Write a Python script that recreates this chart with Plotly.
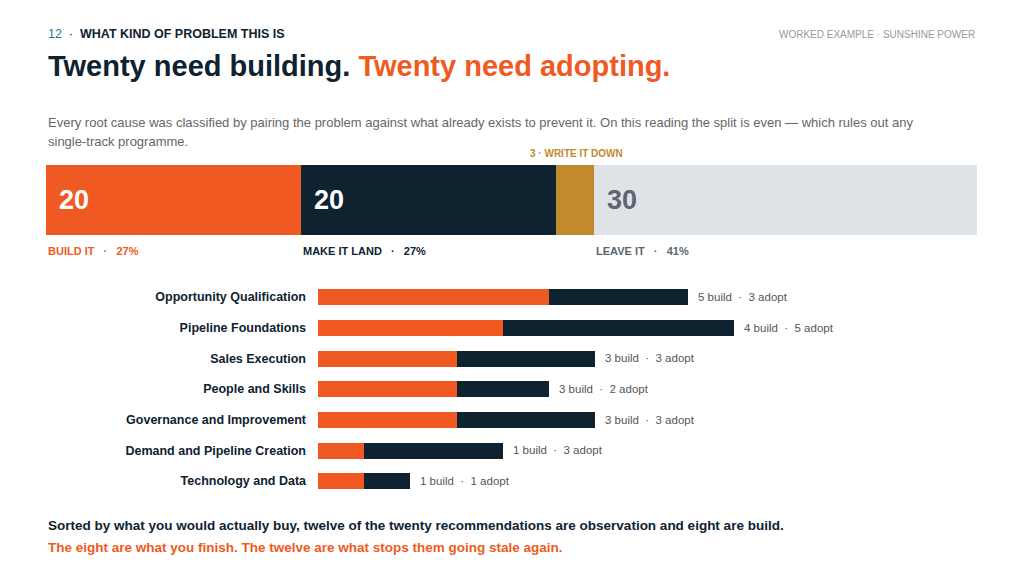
import plotly.graph_objects as go

split_labels = ["BUILD IT", "MAKE IT LAND", "WRITE IT DOWN", "LEAVE IT"]
split_values = [20, 20, 3, 30]
split_pcts = ["27%", "27%", "", "41%"]
split_colors = ["#F05A22", "#0E2230", "#C28A2C", "#DEE3E8"]

areas = ["Opportunity Qualification", "Pipeline Foundations", "Sales Execution",
         "People and Skills", "Governance and Improvement",
         "Demand and Pipeline Creation", "Technology and Data"]
build = [5, 4, 3, 3, 3, 1, 1]
adopt = [3, 5, 3, 2, 3, 3, 1]

F = "Liberation Sans, Arial, sans-serif"
W, H = 1024, 575
OFF = 8
def px(x): return (x - OFF) / W
def py(y): return 1 - (y - OFF) / H

fig = go.Figure()
total = sum(split_values)
for lab, v, c in zip(split_labels, split_values, split_colors):
    fig.add_trace(go.Bar(x=[v], y=[0], orientation="h", marker=dict(color=c, line=dict(width=0)),
                         width=1, xaxis="x", yaxis="y", showlegend=False, hoverinfo="skip"))

fig.add_trace(go.Bar(x=build, y=areas, orientation="h", marker=dict(color="#F05A22", line=dict(width=0)),
                     width=0.52, xaxis="x2", yaxis="y2", showlegend=False))
fig.add_trace(go.Bar(x=adopt, y=areas, orientation="h", marker=dict(color="#0E2230", line=dict(width=0)),
                     width=0.52, xaxis="x2", yaxis="y2", showlegend=False))

ann = []
cum = 0
for lab, v, pct, c in zip(split_labels, split_values, split_pcts, split_colors):
    if lab != "WRITE IT DOWN":
        numcol = "#FFFFFF" if lab != "LEAVE IT" else "#5B6670"
        ann.append(dict(x=cum, y=0, xref="x", yref="y", text=f"<b>{v}</b>", showarrow=False,
                        xanchor="left", xshift=11, font=dict(family=F, size=27, color=numcol)))
        capcol = {"BUILD IT": "#F05A22", "MAKE IT LAND": "#0E2230", "LEAVE IT": "#5B6670"}[lab]
        ann.append(dict(x=cum, y=py(251), xref="x", yref="paper", text=f"<b>{lab}   ·   {pct}</b>",
                        showarrow=False, xanchor="left", yanchor="middle",
                        font=dict(family=F, size=11, color=capcol)))
    else:
        ann.append(dict(x=cum, y=py(153), xref="x", yref="paper", text=f"<b>{v} · {lab}</b>",
                        showarrow=False, xanchor="center", xshift=20, yanchor="middle",
                        font=dict(family=F, size=10, color="#C28A2C")))
    cum += v

for a, b, d in zip(areas, build, adopt):
    ann.append(dict(x=b + d, y=a, xref="x2", yref="y2", text=f"{b} build  ·  {d} adopt",
                    showarrow=False, xanchor="left", xshift=8,
                    font=dict(family=F, size=11.5, color="#555555")))

texts = [
    (46, 34, "<span style='color:#1A7F86'>12</span>  ·  <b>WHAT KIND OF PROBLEM THIS IS</b>", 12.5, "#0E2230", "left"),
    (977, 34, "WORKED EXAMPLE · SUNSHINE POWER", 10, "#999999", "right"),
    (46, 66, "<b>Twenty need building. <span style='color:#F05A22'>Twenty need adopting.</span></b>", 29, "#0E2230", "left"),
    (46, 123, "Every root cause was classified by pairing the problem against what already exists to prevent it. On this reading the split is even — which rules out any", 13, "#666666", "left"),
    (46, 141, "single-track programme.", 13, "#666666", "left"),
    (46, 525, "<b>Sorted by what you would actually buy, twelve of the twenty recommendations are observation and eight are build.</b>", 13.5, "#0E2230", "left"),
    (46, 547, "<b>The eight are what you finish. The twelve are what stops them going stale again.</b>", 13.5, "#F05A22", "left"),
]
for x, y, t, s, c, xa in texts:
    ann.append(dict(x=px(x), y=py(y), xref="paper", yref="paper", text=t, showarrow=False,
                    xanchor=xa, yanchor="middle", font=dict(family=F, size=s, color=c)))

fig.update_layout(
    width=W, height=H, margin=dict(l=0, r=0, t=0, b=0), barmode="stack", bargap=0,
    plot_bgcolor="white", paper_bgcolor="white", annotations=ann,
    xaxis=dict(domain=[px(46), px(977)], range=[0, total], visible=False, fixedrange=True),
    yaxis=dict(domain=[py(235), py(165)], range=[-0.5, 0.5], visible=False),
    xaxis2=dict(domain=[px(318), px(977)], range=[0, 659 / 46.2], visible=False),
    yaxis2=dict(domain=[py(496.3), py(281.7)], anchor="x2", autorange="reversed",
                tickfont=dict(family=F, size=12.5, color="#0E2230", weight="bold"),
                ticks="", showline=False, showgrid=False, ticklabelstandoff=11),
)
fig.write_html("out.html")
